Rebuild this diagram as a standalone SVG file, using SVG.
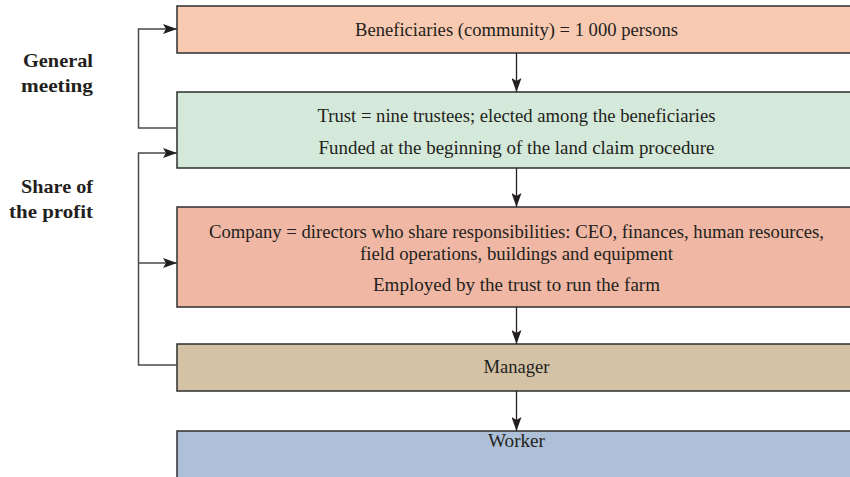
<svg xmlns="http://www.w3.org/2000/svg" width="850" height="477" viewBox="0 0 850 477">
<defs>
<style>
.box{stroke:#2e2e2e;stroke-width:1.5}
.t{font-family:"Liberation Serif","Times New Roman",serif;font-size:18px;fill:#231f20;text-anchor:middle}
.lbl{font-family:"Liberation Serif","Times New Roman",serif;font-size:19px;font-weight:bold;fill:#231f20;text-anchor:end}
.c{fill:none;stroke:#4a4a4a;stroke-width:1.5}
.d{fill:none;stroke:#231f20;stroke-width:1.3}
</style>
<marker id="ah" viewBox="0 0 14 10" refX="14" refY="5" markerWidth="14" markerHeight="10" markerUnits="userSpaceOnUse" orient="auto">
<path d="M0,0 L14,5 L0,10 L3,5 Z" fill="#231f20"/>
</marker>
</defs>
<g id="beneficiaries">
<rect class="box" x="177" y="6" width="680" height="47" fill="#f9cab2"/>
<text class="t" x="516.5" y="36" textLength="323" lengthAdjust="spacingAndGlyphs">Beneficiaries (community) = 1 000 persons</text>
</g>
<g id="trust">
<rect class="box" x="177" y="92" width="680" height="76" fill="#d4e9da"/>
<text class="t" x="516.5" y="122" textLength="398" lengthAdjust="spacingAndGlyphs">Trust = nine trustees; elected among the beneficiaries</text>
<text class="t" x="516.5" y="154" textLength="396" lengthAdjust="spacingAndGlyphs">Funded at the beginning of the land claim procedure</text>
</g>
<g id="company">
<rect class="box" x="177" y="207" width="680" height="100" fill="#f0b8a4"/>
<text class="t" x="516.5" y="238" textLength="615" lengthAdjust="spacingAndGlyphs">Company = directors who share responsibilities: CEO, finances, human resources,</text>
<text class="t" x="516.5" y="260" textLength="313" lengthAdjust="spacingAndGlyphs">field operations, buildings and equipment</text>
<text class="t" x="516.5" y="291" textLength="287" lengthAdjust="spacingAndGlyphs">Employed by the trust to run the farm</text>
</g>
<g id="manager">
<rect class="box" x="177" y="344" width="680" height="47" fill="#d4c2a7"/>
<text class="t" x="516.5" y="373" textLength="66" lengthAdjust="spacingAndGlyphs">Manager</text>
</g>
<g id="worker">
<rect class="box" x="177" y="431" width="680" height="60" fill="#adc0d7"/>
<text class="t" x="516.5" y="447" textLength="57" lengthAdjust="spacingAndGlyphs">Worker</text>
</g>
<g id="label-general">
<text class="lbl" x="93" y="67" textLength="70" lengthAdjust="spacingAndGlyphs">General</text>
<text class="lbl" x="93" y="92" textLength="72" lengthAdjust="spacingAndGlyphs">meeting</text>
</g>
<g id="label-profit">
<text class="lbl" x="93" y="193" textLength="72" lengthAdjust="spacingAndGlyphs">Share of</text>
<text class="lbl" x="93" y="218" textLength="84" lengthAdjust="spacingAndGlyphs">the profit</text>
</g>
<g id="connectors">
<line class="d" x1="516.5" y1="53" x2="516.5" y2="92" marker-end="url(#ah)"/>
<line class="d" x1="516.5" y1="168" x2="516.5" y2="207" marker-end="url(#ah)"/>
<line class="d" x1="516.5" y1="307" x2="516.5" y2="344" marker-end="url(#ah)"/>
<line class="d" x1="516.5" y1="391" x2="516.5" y2="431" marker-end="url(#ah)"/>
<path class="c" d="M177,128 H138.5 V29 H177" marker-end="url(#ah)"/>
<path class="c" d="M177,365 H138.5 V153 H177" marker-end="url(#ah)"/>
<path class="c" d="M138.5,263 H177" marker-end="url(#ah)"/>
</g>
</svg>
